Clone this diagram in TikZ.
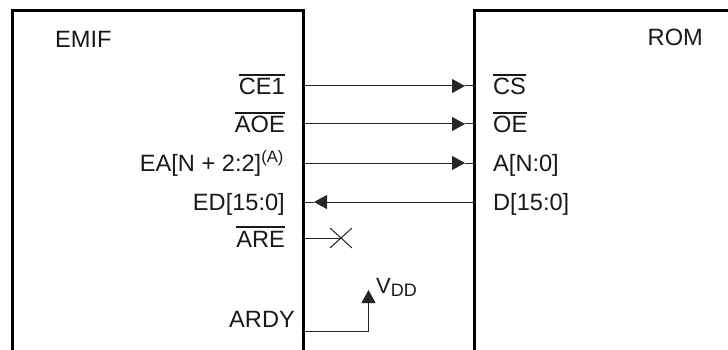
\documentclass[tikz,border=0pt]{standalone}
\usepackage{fontspec}
\setmainfont{Liberation Sans}
\usetikzlibrary{arrows.meta}
\newcommand{\ovl}[1]{\setbox0\hbox{#1}\rlap{\rule[0.82em]{\wd0}{0.065em}}\box0}
\begin{document}
\begin{tikzpicture}[x=1pt,y=-1pt,
  box/.style={line width=3pt, line join=miter},
  sig/.style={line width=1pt, draw=black!85},
  lbl/.style={font=\fontsize{23.6}{27}\selectfont, inner sep=0pt, text=black!90},
  tipA/.style={-{Triangle[length=13pt,width=14pt]}}]
\useasboundingbox (0,0) rectangle (728,350);
% boxes
\draw[box] (12,352) -- (12,11) -- (303,11) -- (303,352);
\draw[box] (474.5,352) -- (474.5,11) -- (732,11);
% titles
\node[lbl, anchor=base west] (emif) at (55,48) {EMIF};
\node[lbl, anchor=base east] (rom) at (703,46) {ROM};
% EMIF pin labels
\node[lbl, anchor=base east] (lce) at (285,95) {\ovl{CE1}};
\node[lbl, anchor=base east] (laoe) at (285,133) {\ovl{AOE}};
\node[lbl, anchor=base east] (lea) at (284,171.5) {EA[N + 2:2]\textsuperscript{(A)}};
\node[lbl, anchor=base east] (led) at (285,210) {ED[15:0]};
\node[lbl, anchor=base east] (lare) at (285,247) {\ovl{ARE}};
\node[lbl, anchor=base east] (lardy) at (295,327) {ARDY};
% ROM pin labels
\node[lbl, anchor=base west] (lcs) at (493,95) {\ovl{CS}};
\node[lbl, anchor=base west] (loe) at (493,133) {\ovl{OE}};
\node[lbl, anchor=base west] (la) at (493,171.5) {A[N:0]};
\node[lbl, anchor=base west] (ld) at (493,210) {D[15:0]};
% coordinates
\coordinate (e1) at (303,86);  \coordinate (t1) at (465,86);  \coordinate (r1) at (474.5,86);
\coordinate (e2) at (303,124); \coordinate (t2) at (465,124); \coordinate (r2) at (474.5,124);
\coordinate (e3) at (303,163); \coordinate (t3) at (465,163); \coordinate (r3) at (474.5,163);
\coordinate (e4) at (303,202); \coordinate (t4) at (314,202); \coordinate (r4) at (474.5,202);
\coordinate (e5) at (303,238); \coordinate (x5) at (341,238);
\coordinate (e6) at (303,331); \coordinate (v6) at (368.5,290);
% connectors
\draw[sig, tipA] (e1) -- (t1); \draw[sig] (t1) -- (r1);
\draw[sig, tipA] (e2) -- (t2); \draw[sig] (t2) -- (r2);
\draw[sig, tipA] (e3) -- (t3); \draw[sig] (t3) -- (r3);
\draw[sig, tipA] (r4) -- (t4); \draw[sig] (t4) -- (e4);
\draw[sig] (e5) -- (x5);
\draw[sig] ([shift={(-11,-10)}]x5) -- ([shift={(11,10)}]x5)
           ([shift={(-11,10)}]x5) -- ([shift={(11,-10)}]x5);
\draw[sig, tipA] (e6) -| (v6);
% VDD
\node[lbl, anchor=base west, font=\fontsize{22}{24}\selectfont] (vdd) at (376,293.3)
  {V\raisebox{-3.6pt}{\fontsize{18}{20}\selectfont DD}};
\end{tikzpicture}
\end{document}
